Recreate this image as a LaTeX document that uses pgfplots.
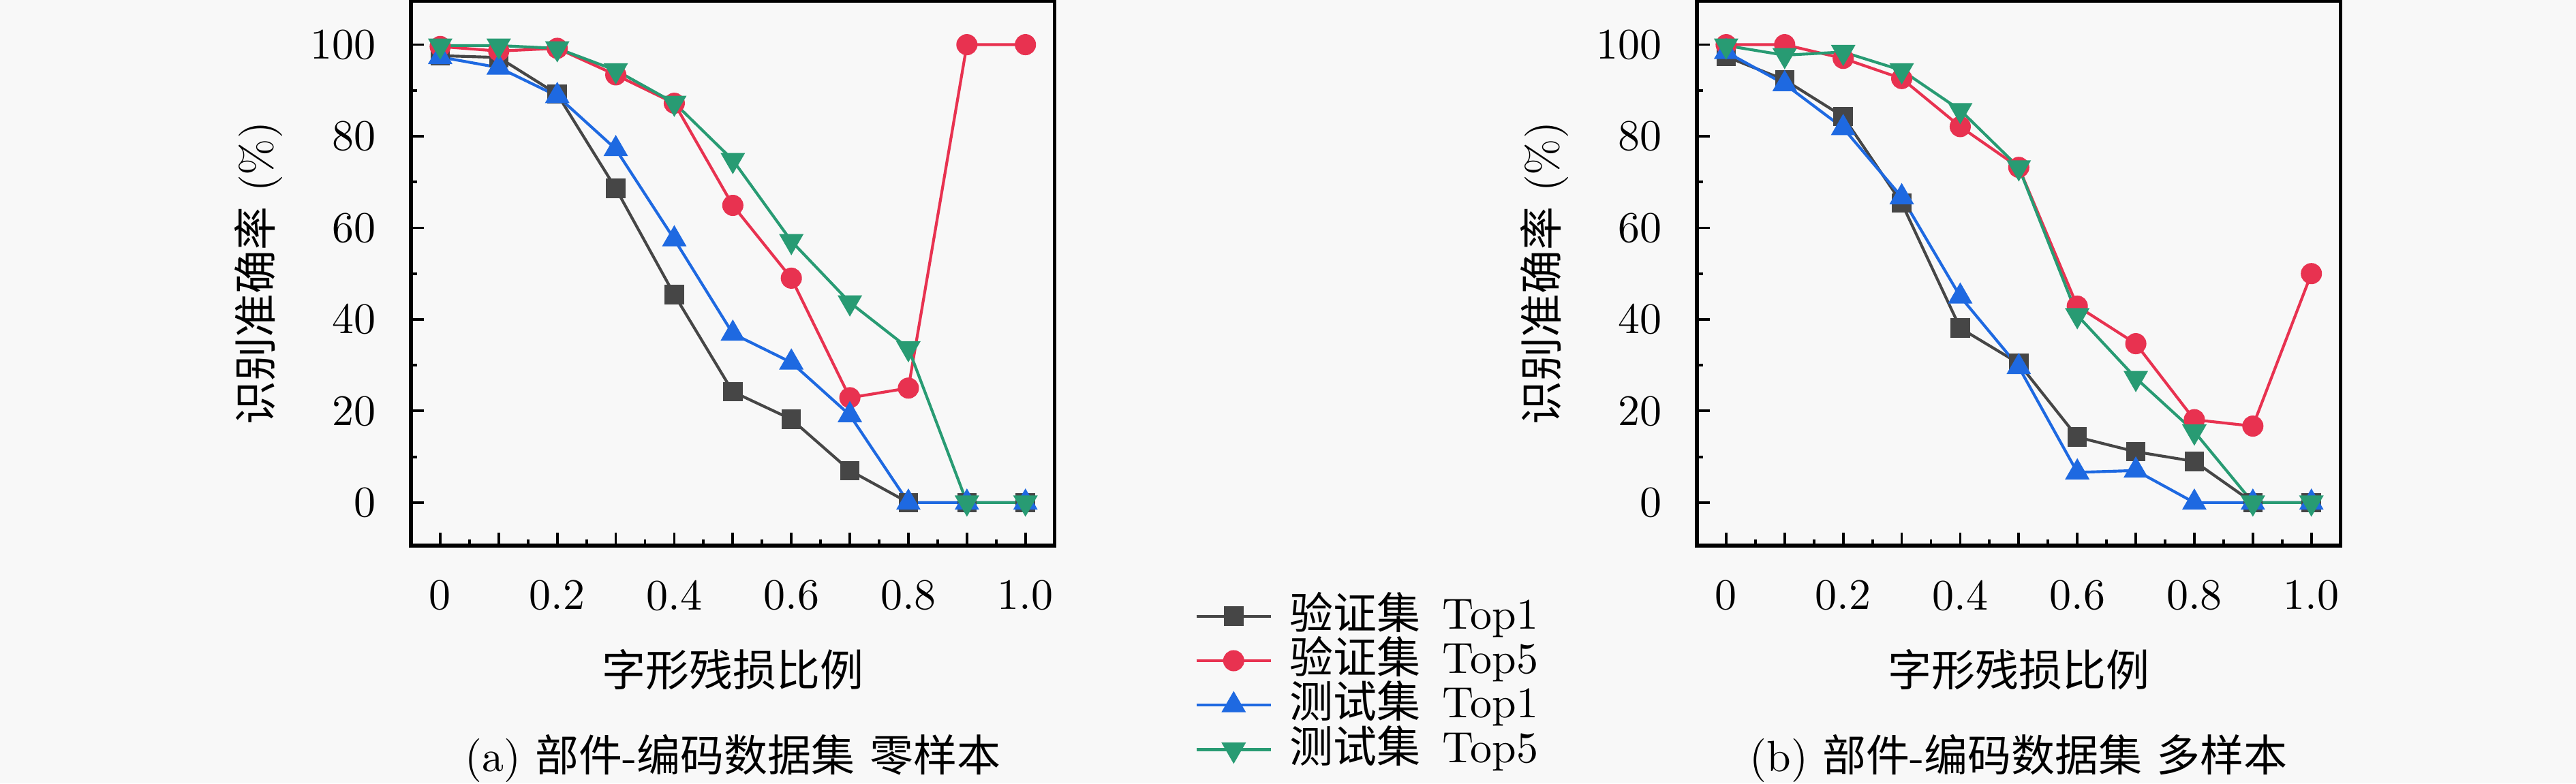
\documentclass[border=0pt]{standalone}
\usepackage{fontspec}
\usepackage{pgfplots}
\pgfplotsset{compat=1.18}
\newfontfamily\cjk{Noto Sans CJK SC}
\definecolor{cA}{RGB}{70,70,70}
\definecolor{cB}{RGB}{232,50,80}
\definecolor{cC}{RGB}{30,105,225}
\definecolor{cD}{RGB}{40,155,115}
\definecolor{bg}{RGB}{248,248,248}
\pgfplotsset{
  myaxis/.style={
    scale only axis, width=147.6pt, height=125pt,
    xmin=-0.05, xmax=1.05, ymin=-9.4, ymax=109.6,
    xtick={0,0.1,0.2,0.3,0.4,0.5,0.6,0.7,0.8,0.9,1.0},
    xticklabels={0,,0.2,,0.4,,0.6,,0.8,,1.0},
    minor xtick={0.05,0.15,0.25,0.35,0.45,0.55,0.65,0.75,0.85,0.95},
    ytick={0,20,40,60,80,100},
    minor ytick={10,30,50,70,90},
    xtick pos=lower, ytick pos=lower,
    tick align=inside,
    major tick length=2.9pt, minor tick length=1.4pt,
    axis line style={line width=0.8pt},
    every tick/.style={black, line width=0.6pt},
    xticklabel style={yshift=-4.4pt},
    yticklabel style={xshift=-4.5pt},
    every axis x label/.style={at={(axis description cs:0.5,-0.2275)}, anchor=center},
    every axis y label/.style={at={(axis description cs:-0.237,0.5)}, rotate=90, anchor=center},
    xlabel={{\cjk 字形残损比例}},
    ylabel={{\cjk 识别准确率} (\%)},
    every axis plot/.append style={line width=0.65pt},
    clip=false,
  },
  sA/.style={color=cA, mark=square*, mark size=1.9pt},
  sB/.style={color=cB, mark=*, mark size=2.1pt},
  sC/.style={color=cC, mark=triangle*, mark size=2.6pt},
  sD/.style={color=cD, mark=triangle*, mark size=2.6pt, mark options={rotate=180}},
}
\begin{document}
\begin{tikzpicture}
\path[use as bounding box, fill=bg] (0,0) rectangle (590.625pt,179.6875pt);
\begin{axis}[myaxis, at={(94.22pt,54.53pt)}, anchor=south west,
  legend style={at={(axis description cs:1.218,-0.0888)}, anchor=north west,
    draw=none, fill=none, inner sep=0pt, outer sep=0pt, row sep=0pt, column sep=4pt,
    nodes={inner sep=0pt, text height=8pt, text depth=2.2pt, anchor=west}},
  legend cell align=left]
\addplot[sA] coordinates {(0,97.6)(0.1,97.2)(0.2,89.2)(0.3,68.6)(0.4,45.4)(0.5,24.2)(0.6,18.2)(0.7,7.0)(0.8,0)(0.9,0)(1.0,0)};
\addlegendentry{{\cjk 验证集}\ \,Top1}
\addplot[sB] coordinates {(0,99.6)(0.1,98.6)(0.2,99.2)(0.3,93.4)(0.4,87.2)(0.5,64.9)(0.6,49.0)(0.7,22.9)(0.8,25.0)(0.9,100)(1.0,100)};
\addlegendentry{{\cjk 验证集}\ \,Top5}
\addplot[sC] coordinates {(0,97.3)(0.1,95.0)(0.2,88.8)(0.3,77.2)(0.4,57.5)(0.5,36.9)(0.6,30.6)(0.7,19.1)(0.8,0)(0.9,0)(1.0,0)};
\addlegendentry{{\cjk 测试集}\ \,Top1}
\addplot[sD] coordinates {(0,99.8)(0.1,99.8)(0.2,99.2)(0.3,94.4)(0.4,87.3)(0.5,74.8)(0.6,57.1)(0.7,43.7)(0.8,33.7)(0.9,0)(1.0,0)};
\addlegendentry{{\cjk 测试集}\ \,Top5}
\node[anchor=center] at (axis description cs:0.5,-0.39) {(a) {\cjk 部件}-{\cjk 编码数据集} {\cjk 零样本}};
\end{axis}
\begin{axis}[myaxis, at={(389.06pt,54.53pt)}, anchor=south west]
\addplot[sA] coordinates {(0,97.4)(0.1,92.3)(0.2,84.3)(0.3,65.4)(0.4,38.1)(0.5,30.4)(0.6,14.3)(0.7,11.1)(0.8,9.0)(0.9,0)(1.0,0)};
\addplot[sB] coordinates {(0,100)(0.1,100)(0.2,97.0)(0.3,92.6)(0.4,82.1)(0.5,73.2)(0.6,42.9)(0.7,34.7)(0.8,18.1)(0.9,16.7)(1.0,50.0)};
\addplot[sC] coordinates {(0,98.4)(0.1,91.4)(0.2,81.8)(0.3,66.7)(0.4,45.0)(0.5,29.6)(0.6,6.6)(0.7,7.0)(0.8,0)(0.9,0)(1.0,0)};
\addplot[sD] coordinates {(0,99.8)(0.1,97.7)(0.2,98.4)(0.3,94.4)(0.4,85.7)(0.5,73.2)(0.6,40.9)(0.7,27.2)(0.8,15.5)(0.9,0)(1.0,0)};
\node[anchor=center] at (axis description cs:0.5,-0.39) {(b) {\cjk 部件}-{\cjk 编码数据集} {\cjk 多样本}};
\end{axis}
\end{tikzpicture}
\end{document}
